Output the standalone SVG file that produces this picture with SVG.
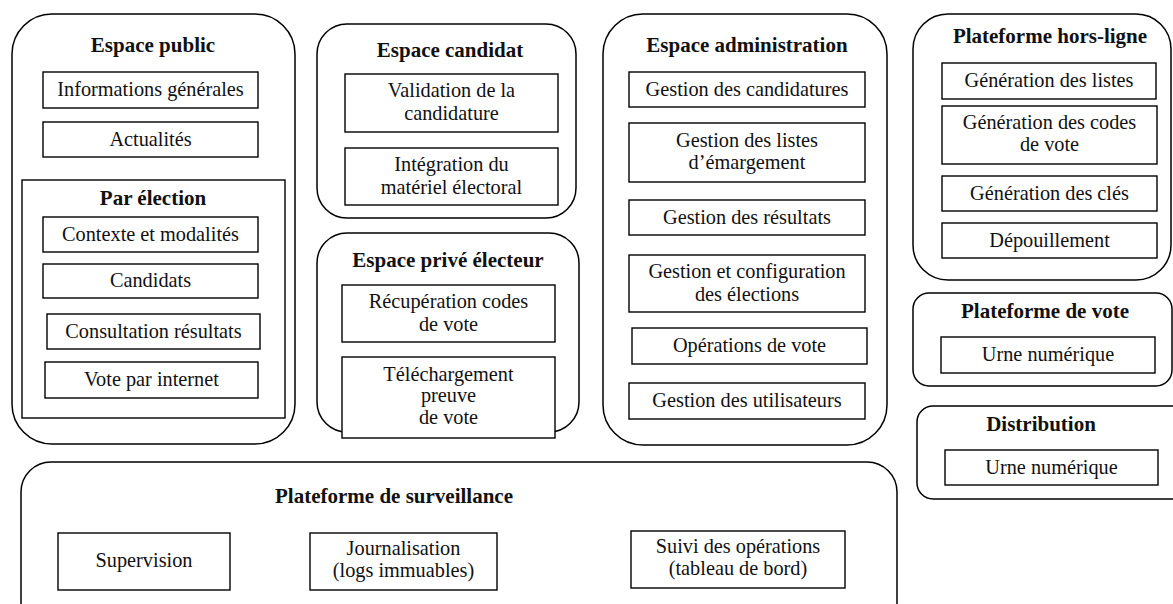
<svg xmlns="http://www.w3.org/2000/svg" width="1173" height="604" viewBox="0 0 1173 604">
<style>
.grp{fill:#fff;stroke:#000;stroke-width:1.5}
.box{fill:#fff;stroke:#000;stroke-width:1.4}
text{font-family:"Liberation Serif","Times New Roman",serif;font-size:20.3px;fill:#111;text-anchor:middle}
.t{font-weight:bold;font-size:21px}
</style>
<rect width="1173" height="604" fill="#fff"/>
<g id="espace-public">
<rect class="grp" x="12" y="14" width="283" height="430" rx="40"/>
<text class="t" x="153" y="52">Espace public</text>
<g id="informations"><rect class="box" x="43" y="72" width="215" height="36"/><text x="150.5" y="96">Informations générales</text></g>
<g id="actualites"><rect class="box" x="43" y="122" width="215" height="35"/><text x="150.5" y="146">Actualités</text></g>
<g id="par-election">
<rect class="box" x="22" y="180" width="263" height="238"/>
<text class="t" x="153" y="205">Par élection</text>
<g id="contexte"><rect class="box" x="43" y="217" width="215" height="35"/><text x="150.5" y="241">Contexte et modalités</text></g>
<g id="candidats"><rect class="box" x="43" y="264" width="215" height="34"/><text x="150.5" y="287">Candidats</text></g>
<g id="consultation"><rect class="box" x="47" y="314" width="213" height="35"/><text x="153.5" y="338">Consultation résultats</text></g>
<g id="vote-internet"><rect class="box" x="45" y="362" width="213" height="36"/><text x="151.5" y="386">Vote par internet</text></g>
</g>
</g>
<g id="espace-candidat">
<rect class="grp" x="317" y="24" width="259" height="194" rx="30"/>
<text class="t" x="450" y="57">Espace candidat</text>
<g id="validation"><rect class="box" x="345" y="74" width="213" height="58"/><text x="451.5" y="97">Validation de la</text><text x="451.5" y="120">candidature</text></g>
<g id="integration"><rect class="box" x="345" y="148" width="213" height="57"/><text x="451.5" y="171">Intégration du</text><text x="451.5" y="194">matériel électoral</text></g>
</g>
<g id="espace-electeur">
<rect class="grp" x="317" y="233" width="262" height="199" rx="30"/>
<text class="t" x="448" y="267">Espace privé électeur</text>
<g id="recuperation"><rect class="box" x="342" y="285" width="213" height="57"/><text x="448.5" y="308">Récupération codes</text><text x="448.5" y="331">de vote</text></g>
<g id="telechargement"><rect class="box" x="342" y="357" width="213" height="81"/><text x="448.5" y="381">Téléchargement</text><text x="448.5" y="402">preuve</text><text x="448.5" y="424">de vote</text></g>
</g>
<g id="espace-administration">
<rect class="grp" x="603" y="14" width="284" height="431" rx="40"/>
<text class="t" x="747" y="52">Espace administration</text>
<g id="gestion-candidatures"><rect class="box" x="629" y="72" width="236" height="35"/><text x="747" y="96">Gestion des candidatures</text></g>
<g id="gestion-listes"><rect class="box" x="629" y="123" width="236" height="59"/><text x="747" y="147">Gestion des listes</text><text x="747" y="169">d’émargement</text></g>
<g id="gestion-resultats"><rect class="box" x="629" y="200" width="236" height="35"/><text x="747" y="224">Gestion des résultats</text></g>
<g id="gestion-config"><rect class="box" x="629" y="255" width="236" height="57"/><text x="747" y="278">Gestion et configuration</text><text x="747" y="301">des élections</text></g>
<g id="operations-vote"><rect class="box" x="632" y="328" width="235" height="36"/><text x="749.5" y="352">Opérations de vote</text></g>
<g id="gestion-utilisateurs"><rect class="box" x="629" y="383" width="236" height="36"/><text x="747" y="407">Gestion des utilisateurs</text></g>
</g>
<g id="plateforme-hors-ligne">
<rect class="grp" x="913" y="14" width="258" height="266" rx="35"/>
<text class="t" x="1050" y="43">Plateforme hors-ligne</text>
<g id="gen-listes"><rect class="box" x="942" y="63" width="214" height="36"/><text x="1049" y="87">Génération des listes</text></g>
<g id="gen-codes"><rect class="box" x="942" y="106" width="215" height="58"/><text x="1049.5" y="129">Génération des codes</text><text x="1049.5" y="151">de vote</text></g>
<g id="gen-cles"><rect class="box" x="942" y="176" width="215" height="35"/><text x="1049.5" y="200">Génération des clés</text></g>
<g id="depouillement"><rect class="box" x="942" y="223" width="215" height="35"/><text x="1049.5" y="247">Dépouillement</text></g>
</g>
<g id="plateforme-vote">
<rect class="grp" x="913" y="293" width="259" height="93" rx="16"/>
<text class="t" x="1045" y="318">Plateforme de vote</text>
<g id="urne-1"><rect class="box" x="941" y="337" width="214" height="36"/><text x="1048" y="361">Urne numérique</text></g>
</g>
<g id="distribution">
<rect class="grp" x="917" y="406" width="275" height="93" rx="16"/>
<text class="t" x="1041" y="431">Distribution</text>
<g id="urne-2"><rect class="box" x="945" y="450" width="213" height="35"/><text x="1051.5" y="474">Urne numérique</text></g>
</g>
<g id="plateforme-surveillance">
<rect class="grp" x="21" y="462" width="876" height="170" rx="30"/>
<text class="t" x="394" y="503">Plateforme de surveillance</text>
<g id="supervision"><rect class="box" x="58" y="533" width="172" height="57"/><text x="144" y="567">Supervision</text></g>
<g id="journalisation"><rect class="box" x="310" y="533" width="187" height="57"/><text x="403.5" y="555">Journalisation</text><text x="403.5" y="577">(logs immuables)</text></g>
<g id="suivi"><rect class="box" x="631" y="531" width="214" height="57"/><text x="738" y="553">Suivi des opérations</text><text x="738" y="575">(tableau de bord)</text></g>
</g>
<g id="connectors"/>
</svg>
